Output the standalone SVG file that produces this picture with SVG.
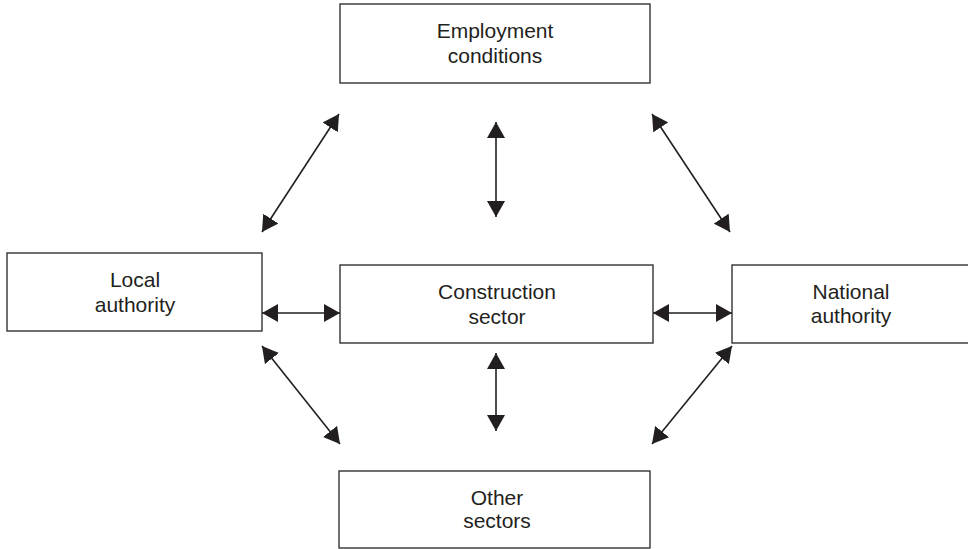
<svg xmlns="http://www.w3.org/2000/svg" width="968" height="549" viewBox="0 0 968 549">
<style>
.box{fill:#fff;stroke:#333;stroke-width:1.4}
.lbl{font-family:"Liberation Sans",Arial,sans-serif;font-size:21px;fill:#231f20;text-anchor:middle}
.con{stroke:#231f20;stroke-width:1.6;fill:none;marker-start:url(#ah);marker-end:url(#ah)}
</style>
<defs>
<marker id="ah" viewBox="0 0 16 18" refX="16" refY="9" markerWidth="16" markerHeight="18" markerUnits="userSpaceOnUse" orient="auto-start-reverse">
<path d="M0,0 L16,9 L0,18 Z" fill="#231f20"/>
</marker>
</defs>
<rect width="968" height="549" fill="#fff"/>
<g id="employment">
<rect class="box" x="340" y="4" width="310" height="79"/>
<text class="lbl" x="495" y="38">Employment</text>
<text class="lbl" x="495" y="63">conditions</text>
</g>
<g id="local">
<rect class="box" x="7" y="253" width="255" height="78"/>
<text class="lbl" x="135" y="287">Local</text>
<text class="lbl" x="135" y="312">authority</text>
</g>
<g id="construction">
<rect class="box" x="340" y="265" width="313" height="78"/>
<text class="lbl" x="497" y="299">Construction</text>
<text class="lbl" x="497" y="324">sector</text>
</g>
<g id="national">
<rect class="box" x="732" y="265" width="240" height="78"/>
<text class="lbl" x="851" y="299">National</text>
<text class="lbl" x="851" y="323">authority</text>
</g>
<g id="other">
<rect class="box" x="339" y="471" width="311" height="77"/>
<text class="lbl" x="497" y="505">Other</text>
<text class="lbl" x="497" y="528">sectors</text>
</g>
<g id="connectors">
<line class="con" x1="262" y1="313" x2="340" y2="313"/>
<line class="con" x1="653" y1="313" x2="732" y2="313"/>
<line class="con" x1="496" y1="122" x2="496" y2="217"/>
<line class="con" x1="496" y1="353" x2="496" y2="431"/>
<line class="con" x1="339" y1="114" x2="262" y2="232"/>
<line class="con" x1="652" y1="114" x2="730" y2="232"/>
<line class="con" x1="262" y1="346" x2="340" y2="444"/>
<line class="con" x1="732" y1="346" x2="652" y2="444"/>
</g>
</svg>
